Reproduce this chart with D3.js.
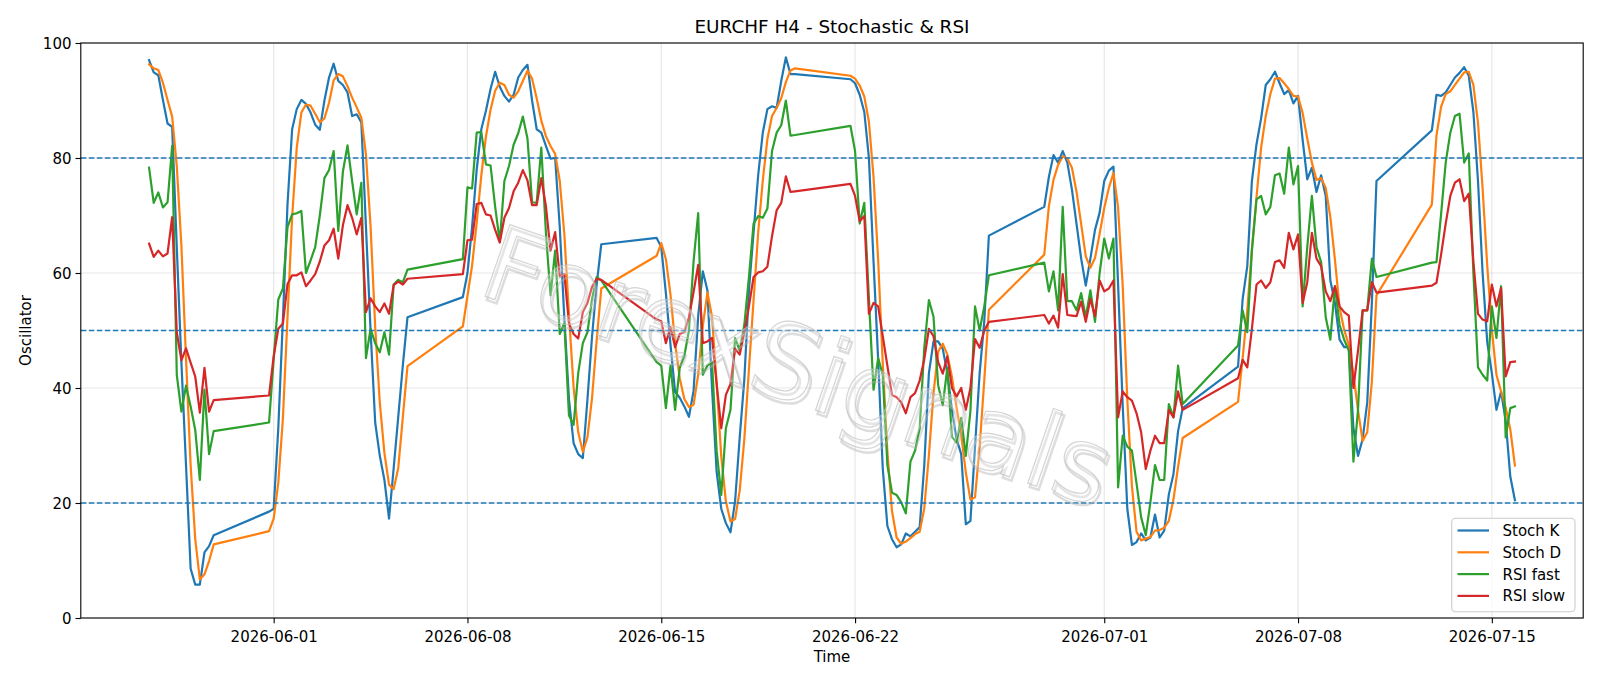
<!DOCTYPE html>
<html><head><meta charset="utf-8">
<script src="https://cdn.jsdelivr.net/npm/d3@7/dist/d3.min.js"></script>
<style>
body{margin:0;background:#fff;}
svg{display:block;}
text{font-family:"DejaVu Sans",sans-serif;fill:#000;}
</style>
</head><body>
<svg id="chart" width="1600" height="686"></svg>
<script>
// H4 bar sessions: [first bar (UTC), number of consecutive 4h bars]
const sessions = [["2026-05-27T12:00",15],["2026-05-31T20:00",31],["2026-06-07T20:00",31],["2026-06-14T20:00",31],["2026-06-21T20:00",31],["2026-06-28T20:00",31],["2026-07-05T20:00",31],["2026-07-12T20:00",19]];

const stochK = [
97.0,94.9,94.4,90.1,86.0,85.4,64.5,44.5,26.6,8.6,5.8,5.8,11.4,12.5,14.4,
18.5,19.0,33,52,72,85,88.5,90.1,89.4,87.9,85.8,84.9,90,94,96.4,93.4,92.7,91.4,87.3,87.6,86.2,68,50,34,28.2,24,17.3,26,35,44,52.3,
55.8,60,68,78,85,88.2,92,95,92.4,90.8,89.8,91,94,95.3,96.2,90,85,84.4,82.1,79.9,80,68,52,38,30.4,28.5,27.8,38,49,58,65,
66.1,64.5,56.5,47.5,39.3,38.3,36.8,35.0,39.5,52.5,60.3,57.0,40,25.4,19.0,16.5,14.9,20.3,31.4,41.5,57,67,77,84.4,88.5,89.0,88.7,93.4,97.5,94.6,94.6,
93.7,93,91,88,80,62,45,26,16,13.7,12.3,12.8,14.7,14.2,15,15.8,26.6,42.6,48.1,48.1,46.8,42.6,36.2,31.1,28.5,16.3,16.9,29.8,42.6,51.6,66.5,
71.5,76.7,80.5,79.2,81.2,79.2,74.5,68.5,62.5,57.8,62.5,67.5,70.5,76,77.8,78.5,58,37,19,12.7,13.2,14.7,13.5,14,18,14,15.2,21.5,25,32.5,36.5,
43.7,55.5,61.2,76,82.4,86.9,92.7,93.7,95,93,91.1,91.8,89.5,90.8,83.1,76.3,78.3,74.1,77,73.4,58.7,54.8,48.4,47.1,47.1,33,28.2,31.1,37.5,54.8,76,
84.8,91,90.8,91.4,92.7,94,94.8,95.8,94.3,88,76,60,48,42.6,36.2,39.4,34.3,24.6,20.5];

const stochD = [
96.3,95.6,95.3,93.1,90.1,87.2,78.6,64.8,45.2,26.6,13.7,6.7,7.6,9.9,12.8,
15.1,17.3,23.5,34.7,52.3,69.7,81.8,87.9,89.3,89.1,87.7,86.2,86.9,89.6,93.5,94.6,94.2,92.5,90.5,88.8,87.0,80.6,68.1,50.7,37.4,28.7,23.2,22.4,26.1,35.0,43.8,
50.7,56.0,61.3,68.7,77.0,83.7,88.4,91.7,93.1,92.7,91.0,90.5,91.6,93.4,95.2,93.8,90.4,86.5,83.8,82.1,80.7,76.0,66.7,52.7,40.1,32.3,28.9,31.4,38.3,48.3,57.3,
63.0,65.2,62.4,56.2,47.8,41.7,38.1,36.7,37.1,42.3,50.8,56.6,52.4,40.8,28.1,20.3,16.8,17.2,22.2,31.1,43.3,55.2,67.0,76.1,83.3,87.3,88.7,90.4,93.2,95.2,95.6,
94.3,93.8,92.6,90.7,86.3,76.7,62.3,44.3,29.0,18.6,14.0,12.9,13.3,13.9,14.6,15.0,19.1,28.3,39.1,46.3,47.7,45.8,41.9,36.6,31.9,25.3,20.6,21.0,29.8,41.3,53.6,
63.2,71.6,76.2,78.8,80.3,79.9,78.3,74.1,68.5,62.9,60.9,62.6,66.8,71.3,74.8,77.4,71.4,57.8,38.0,22.9,15.0,13.5,13.8,14.1,15.2,15.3,15.7,16.9,20.6,26.3,31.3,
37.6,45.2,53.5,64.2,73.2,81.8,87.3,91.1,93.8,93.9,93.0,92.0,90.8,90.7,87.8,83.4,79.2,76.2,76.5,74.8,69.7,62.3,54.0,50.1,47.5,42.4,36.1,30.8,32.3,41.1,56.1,
71.9,83.9,88.9,91.1,91.6,92.7,93.8,94.9,95.0,92.7,86.1,74.7,61.3,50.2,42.3,39.4,36.6,32.8,26.5];

const rsiFast = [
78.3,72.2,74.0,71.4,72.3,82.1,42.3,35.9,40.4,36.8,32.7,24.0,39.7,28.5,32.5,
34.0,45,55.4,57.3,68,70.2,70.4,70.8,60.0,62.2,64.5,70,76.5,77.9,81.2,67.3,77.6,82.2,76.0,70.2,75.7,45.2,50.3,47.8,46.2,49.7,45.8,58.0,58.8,58.4,60.6,
62.4,74.9,74.7,84.4,84.5,78.9,78.7,71.5,65.4,76,78.6,82.3,84.3,87.2,83.4,72.3,72.2,81.8,67,56.1,63.9,49.4,51.3,35.2,33.6,42.6,47.8,49.7,55.5,59.3,58.7,
44.5,43.9,36.5,43.9,36.2,43.5,45.6,50,62,70.4,42.3,43.9,44.5,29.1,21.4,33,36.2,48.7,46.5,51,59.3,68.6,69.9,69.6,71.2,81.2,84.4,85.7,90.0,83.9,84.0,
85.6,81.2,68.6,72.2,55.5,39.7,45.2,42.3,26.6,21.8,21.4,20.1,18.2,27.2,29.1,33,47,55.3,52.4,40.5,37,43.5,31.5,30.5,34.8,28.2,36,54.2,50,54.2,59.6,
61.8,56.8,60.3,53.5,71.5,55.1,55.1,53.5,56.5,52.3,57,51.5,60,66,62.5,66,22.7,31.7,29.8,29.1,23.4,17.5,14.4,20.1,26.6,24,24,37.2,34.9,43.9,37.2,
47.4,53.5,49.7,63.8,72.8,73.4,70.2,71.5,77,77.3,73.8,81.8,75.4,78.6,54.2,64.5,73.4,64.5,61.9,52.3,48.4,57.7,51,48.4,46.5,27.2,36.2,53.5,53.5,62.5,59.3,
61.8,61.9,70.2,79.2,84.4,87.3,87.7,79.2,80.8,60,43.6,42.3,41.3,54.2,48.7,57.7,31.4,36.5,36.8];

const rsiSlow = [
65.1,62.8,63.9,62.9,63.4,69.7,49.7,44.8,46.9,44.4,42.0,35.7,43.5,35.9,37.9,
38.7,45.5,50.3,51.2,58.1,59.6,59.6,60.1,57.7,58.7,59.8,62,64.8,65.7,67.7,62.5,68.3,71.8,69.6,66.7,69.6,53.2,55.6,54.2,53.2,54.7,52.9,57.9,58.5,58.0,59.0,
59.8,65.7,65.8,72.0,72.2,70.2,70.0,67.5,65.3,69.6,71.3,74.2,75.7,77.9,76.1,71.8,71.8,76.5,71.6,63.9,67.1,59.4,59.8,51.2,49.4,48.6,53.2,54.8,57.6,59.0,58.8,
51.9,51.6,47.8,50.6,47.1,49.4,49.7,52.3,56.7,61.4,47.8,48.1,48.7,40.7,33,38.8,40.7,46.8,45.8,49.7,54.2,59.3,60.1,60.3,61.1,66.4,70.9,72.2,76.8,74.1,74.2,
75.5,73.4,69.0,69.9,52.9,54.8,54.2,49.0,43.9,38.8,38.4,37.5,35.6,38.4,39.1,41.3,45,50.3,49,44.5,42.5,45.5,40,38.5,40,36.2,40,48.5,47,50,51.5,
52.7,51.2,52.6,50.5,59.8,52.7,52.6,52.5,55,51.5,55.5,52.5,58.7,56.8,57.3,58.7,34.9,39.4,38.4,37.8,35.6,32.3,25.9,29.1,31.7,30.4,30.4,36.2,34.9,39.4,36.2,
41.7,44.9,43.6,50.3,58,58.7,57.4,58.4,61.9,62.2,60.9,67,64.1,66.7,54.8,58.4,67,62.5,61.2,56.8,55.1,57.7,54.2,53.2,52.6,40,46.5,53.5,53.5,58.4,56.6,
57.8,58.3,63.2,68.6,73.4,75.7,76.3,72.5,73.8,62,52.9,51.9,51.6,58,54.2,57.4,42,44.5,44.6];

const seriesNames = ["Stoch K","Stoch D","RSI fast","RSI slow"];
const seriesColors = ["#1f77b4","#ff7f0e","#2ca02c","#d62728"];
const levels = [20,50,80];
const yTicks = [0,20,40,60,80,100];
const xTickLabels = ["2026-06-01","2026-06-08","2026-06-15","2026-06-22","2026-07-01","2026-07-08","2026-07-15"];
const titleText = "EURCHF H4 - Stochastic & RSI";
const watermark = "ForexSignals";

const parseT = d3.utcParse("%Y-%m-%dT%H:%M");
const parseD = d3.utcParse("%Y-%m-%d");
const H4 = 4*3600*1000;
const times = sessions.flatMap(([s,n]) => { const t0 = parseT(s); return d3.range(n).map(i => new Date(+t0 + i*H4)); });
const allSeries = [stochK, stochD, rsiFast, rsiSlow];

const svg = d3.select("#chart");
const L = 80.8, R = 1583.2, T = 43, B = 618;
const ext = d3.extent(times);
const pad = (ext[1]-ext[0])*0.05;
const x = d3.scaleUtc().domain([new Date(+ext[0]-pad), new Date(+ext[1]+pad)]).range([L,R]);
const y = d3.scaleLinear().domain([0,100]).range([B,T]);

// grid
const g = svg.append("g");
g.selectAll(".gx").data(xTickLabels).enter().append("line")
  .attr("x1", d=>x(parseD(d))).attr("x2", d=>x(parseD(d))).attr("y1",T).attr("y2",B)
  .attr("stroke","#b0b0b0").attr("stroke-opacity",0.3).attr("stroke-width",1.2);
g.selectAll(".gy").data(yTicks).enter().append("line")
  .attr("x1",L).attr("x2",R).attr("y1",d=>y(d)).attr("y2",d=>y(d))
  .attr("stroke","#b0b0b0").attr("stroke-opacity",0.3).attr("stroke-width",1.2);

// series
const line = d3.line().x((d,i)=>x(times[i])).y(d=>y(d));
allSeries.forEach((s,i)=>{
  svg.append("path").datum(s).attr("d",line).attr("fill","none")
    .attr("stroke",seriesColors[i]).attr("stroke-width",2.2)
    .attr("stroke-linejoin","round").attr("stroke-linecap","square");
});

// level lines
svg.selectAll(".lvl").data(levels).enter().append("line")
  .attr("x1",L).attr("x2",R).attr("y1",d=>y(d)).attr("y2",d=>y(d))
  .attr("stroke","#1f77b4").attr("stroke-width",1.5).attr("stroke-dasharray","5.6,2.4");

// watermark
const wm = svg.append("g").attr("transform","translate(798,366) rotate(19)");
wm.append("text").attr("x",3).attr("y",3).attr("text-anchor","middle").attr("dominant-baseline","central")
  .style("font-size","104px").style("fill","none")
  .style("stroke","#b5b5b5").style("stroke-width",2.5).style("opacity",0.45).text(watermark);
wm.append("text").attr("text-anchor","middle").attr("dominant-baseline","central")
  .style("font-size","104px").style("fill","#fff").style("fill-opacity",0.35)
  .style("stroke","#c4c4c4").style("stroke-width",1.2).style("opacity",0.7).text(watermark);

// axes
const xAxis = d3.axisBottom(x).tickValues(xTickLabels.map(parseD)).tickFormat(d3.utcFormat("%Y-%m-%d")).tickSize(5.3).tickPadding(4);
const yAxis = d3.axisLeft(y).tickValues(yTicks).tickSize(5.3).tickPadding(4);
const gx = svg.append("g").attr("transform",`translate(0,${B})`).call(xAxis);
const gy = svg.append("g").attr("transform",`translate(${L},0)`).call(yAxis);
[gx,gy].forEach(a=>{ a.select(".domain").remove(); a.selectAll("line").attr("stroke","#000").attr("stroke-width",1.1);
  a.selectAll("text").style("font-size","15px").style("font-family","DejaVu Sans").attr("fill","#000"); });
gx.selectAll("text").attr("dy","0.95em");
gy.selectAll("text").attr("dy","0.35em");

// frame
svg.append("rect").attr("x",L).attr("y",T).attr("width",R-L).attr("height",B-T)
  .attr("fill","none").attr("stroke","#000").attr("stroke-width",1.1);

// labels
svg.append("text").attr("x",(L+R)/2).attr("y",33.3).attr("text-anchor","middle").style("font-size","18.4px").text(titleText);
svg.append("text").attr("x",(L+R)/2).attr("y",661.5).attr("text-anchor","middle").style("font-size","15px").text("Time");
svg.append("text").attr("transform",`translate(31,${(T+B)/2}) rotate(-90)`).attr("text-anchor","middle").style("font-size","15px").text("Oscillator");

// legend
const lg = svg.append("g");
lg.append("rect").attr("x",1451.7).attr("y",518.3).attr("width",123.3).attr("height",93.4).attr("rx",4)
  .attr("fill","#fff").attr("fill-opacity",0.8).attr("stroke","#cccccc").attr("stroke-width",1.1);
seriesNames.forEach((n,i)=>{
  const yy = 530.5 + i*21.8;
  lg.append("line").attr("x1",1457.5).attr("x2",1489).attr("y1",yy).attr("y2",yy).attr("stroke",seriesColors[i]).attr("stroke-width",2.2);
  lg.append("text").attr("x",1502.5).attr("y",yy+5.4).style("font-size","15px").text(n);
});
</script>
</body></html>
